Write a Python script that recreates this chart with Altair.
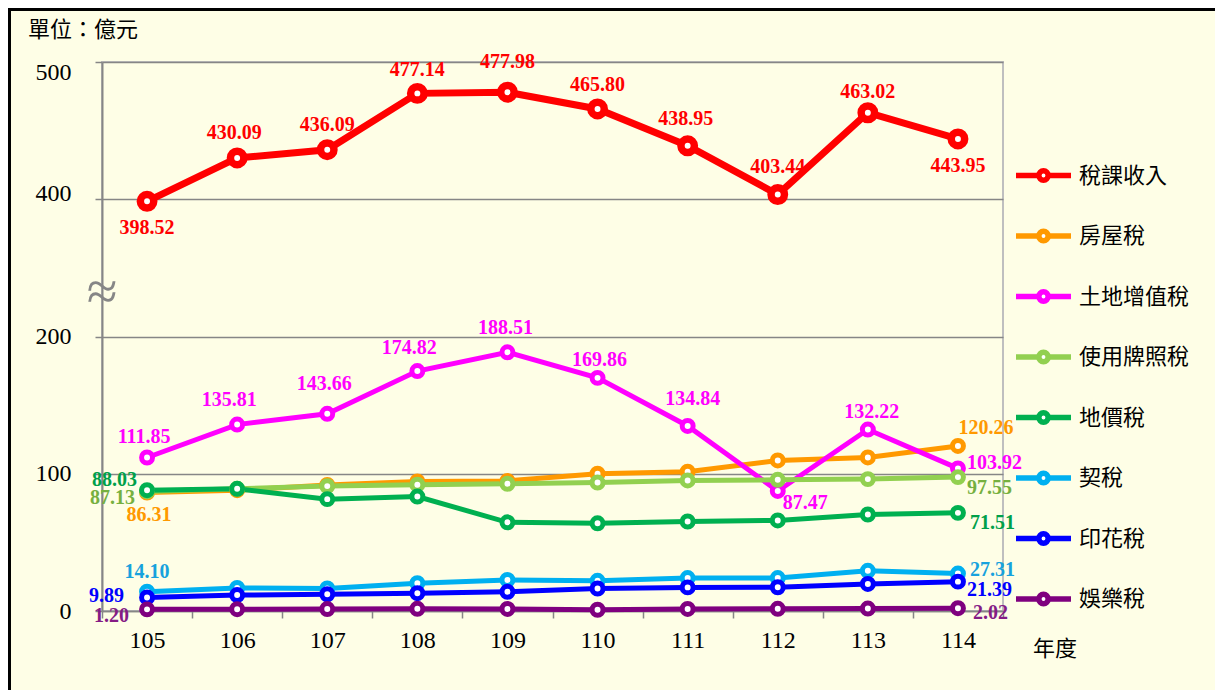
import altair as alt
import pandas as pd

# ---------------- data ----------------
years = ["105", "106", "107", "108", "109", "110", "111", "112", "113", "114"]
series_names = ["稅課收入", "房屋稅", "土地增值稅", "使用牌照稅", "地價稅", "契稅", "印花稅", "娛樂稅"]

tax_revenue = [398.52, 430.09, 436.09, 477.14, 477.98, 465.80, 438.95, 403.44, 463.02, 443.95]
house_tax = [86.31, 88.0, 91.8, 94.4, 94.8, 100.0, 101.5, 109.7, 111.9, 120.26]
land_increment_tax = [111.85, 135.81, 143.66, 174.82, 188.51, 169.86, 134.84, 87.47, 132.22, 103.92]
license_tax = [87.13, 89.0, 91.0, 92.0, 92.7, 93.6, 95.1, 95.6, 96.1, 97.55]
land_value_tax = [88.03, 89.0, 81.5, 83.4, 64.6, 63.9, 65.2, 66.0, 70.3, 71.51]
deed_tax = [14.10, 16.8, 16.4, 20.3, 22.6, 22.0, 24.0, 24.0, 29.3, 27.31]
stamp_tax = [9.89, 11.6, 12.2, 13.0, 14.0, 16.4, 17.2, 17.3, 19.7, 21.39]
amusement_tax = [1.20, 1.3, 1.4, 1.6, 1.5, 0.9, 1.5, 1.6, 1.8, 2.02]

unit_text = "單位：億元"
xaxis_text = "年度"
break_text = "≈"

# ---------------- styles ----------------
line_colors = ["#FF0000", "#FF9900", "#FF00FF", "#92D050", "#00B050", "#00B0F0", "#0000FF", "#7F007F"]
label_colors = ["#FF0000", "#FF9900", "#FF00FF", "#76B03F", "#00A04A", "#17A2DD", "#0000FF", "#851C85"]

values_by_series = dict(zip(series_names, [tax_revenue, house_tax, land_increment_tax, license_tax,
                                            land_value_tax, deed_tax, stamp_tax, amusement_tax]))

rows = []
for s in series_names:
    for yr, v in zip(years, values_by_series[s]):
        rows.append({"year": yr, "series": s, "value": v})
df = pd.DataFrame(rows)

# label placement: (dx, dy, align) in pixels
placement = {
    ("稅課收入", "105"): (0, 27, "center"), ("稅課收入", "106"): (-3, -25, "center"),
    ("稅課收入", "107"): (0, -25, "center"), ("稅課收入", "108"): (0, -23, "center"),
    ("稅課收入", "109"): (0, -30, "center"), ("稅課收入", "110"): (0, -24, "center"),
    ("稅課收入", "111"): (-2, -27, "center"), ("稅課收入", "112"): (0, -28, "center"),
    ("稅課收入", "113"): (0, -21, "center"), ("稅課收入", "114"): (0, 27, "center"),
    ("土地增值稅", "105"): (-3, -20, "center"), ("土地增值稅", "106"): (-8, -25, "center"),
    ("土地增值稅", "107"): (-3, -30, "center"), ("土地增值稅", "108"): (-8, -23, "center"),
    ("土地增值稅", "109"): (-2, -24, "center"), ("土地增值稅", "110"): (2, -18, "center"),
    ("土地增值稅", "111"): (5, -27, "center"), ("土地增值稅", "112"): (5, 12, "left"),
    ("土地增值稅", "113"): (4, -18, "center"), ("土地增值稅", "114"): (9, -5, "left"),
    ("房屋稅", "105"): (2, 22, "center"), ("房屋稅", "114"): (28, -18, "center"),
    ("使用牌照稅", "105"): (-12, 7, "right"), ("使用牌照稅", "114"): (9, 11, "left"),
    ("地價稅", "105"): (-10, -10, "right"), ("地價稅", "114"): (12, 10, "left"),
    ("契稅", "105"): (0, -20, "center"), ("契稅", "114"): (12, -4, "left"),
    ("印花稅", "105"): (-23, -1, "right"), ("印花稅", "114"): (9, 8, "left"),
    ("娛樂稅", "105"): (-18, 7, "right"), ("娛樂稅", "114"): (15, 5, "left"),
}
label_rows = []
for (s, yr), (dx, dy, al) in placement.items():
    label_rows.append({
        "year": yr, "series": s, "value": values_by_series[s][years.index(yr)],
        "dx": dx, "dy": dy, "align": al, "lc": label_colors[series_names.index(s)],
    })
labels_df = pd.DataFrame(label_rows)

# ---------------- chart ----------------
W, H = 901, 549
PAD = {"left": 94, "top": 54, "right": 212, "bottom": 87}
disp_expr = "datum.value >= 300 ? datum.value - 100 : datum.value"
SERIF = "Liberation Serif"
CJK = "Noto Sans CJK TC"
GRAY = "#868686"

x_enc = alt.X(
    "year:N", sort=years,
    scale=alt.Scale(paddingInner=0, paddingOuter=0),
    axis=alt.Axis(title=None, labelAngle=0, labelFont=SERIF, labelFontSize=24, labelColor="#000000",
                  labelPadding=10, domainColor=GRAY, domainWidth=1.5, tickColor=GRAY, tickWidth=1.5,
                  tickSize=7, tickBand="extent", grid=False),
)
y_enc = alt.Y(
    "disp:Q",
    scale=alt.Scale(domain=[0, 400], nice=False, zero=True),
    axis=alt.Axis(title=None, values=[0, 100, 200, 300, 400],
                  labelExpr="datum.value >= 300 ? '' + (datum.value + 100) : '' + datum.value",
                  labelFont=SERIF, labelFontSize=24, labelColor="#000000", labelPadding=24,
                  tickSize=7, tickColor=GRAY, tickWidth=1.5, domainColor=GRAY, domainWidth=2,
                  grid=True, gridColor=GRAY, gridWidth=1.5,
                  labelOffset={"condition": [{"test": "datum.value == 400", "value": 10},
                                             {"test": "datum.value == 300", "value": -6}],
                               "value": 0}),
)
color_scale = alt.Scale(domain=series_names, range=line_colors)

legend_path = ("M-1,0H-0.17M0.17,0H1M-0.17,0A0.17,0.17,0,1,1,0.17,0"
               "A0.17,0.17,0,1,1,-0.17,0Z")
legend = alt.Legend(title=None, orient="none", legendX=911, legendY=83,
                    direction="vertical", symbolType=legend_path, symbolSize=3025,
                    symbolStrokeWidth=5.5, symbolFillColor="white", symbolOpacity=1,
                    labelFont=CJK, labelFontSize=22, labelColor="#000000",
                    labelOffset=5, rowPadding=13.5, padding=0, labelLimit=300)

base = alt.Chart(df).transform_calculate(disp=disp_expr)
is_main = "datum.series == '稅課收入'"
not_main = "datum.series != '稅課收入'"

lines_main = base.transform_filter(is_main).mark_line(strokeWidth=7).encode(
    x=x_enc, y=y_enc,
    color=alt.Color("series:N", scale=color_scale, sort=series_names, legend=legend),
)
lines_other = base.transform_filter(not_main).mark_line(strokeWidth=5).encode(
    x=x_enc, y=y_enc,
    color=alt.Color("series:N", scale=color_scale, sort=series_names),
)
points_main = base.transform_filter(is_main).mark_point(
    shape="circle", filled=False, fill="white", opacity=1, fillOpacity=1, size=180, strokeWidth=7.5
).encode(x=x_enc, y=y_enc, color=alt.Color("series:N", scale=color_scale, sort=series_names))
points_other = base.transform_filter(not_main).mark_point(
    shape="circle", filled=False, fill="white", opacity=1, fillOpacity=1, size=120, strokeWidth=5
).encode(x=x_enc, y=y_enc, color=alt.Color("series:N", scale=color_scale, sort=series_names))

labels = alt.Chart(labels_df).transform_calculate(disp=disp_expr).mark_text(
    baseline="middle", font=SERIF, fontSize=20, fontWeight="bold",
    dx=alt.ExprRef(expr="datum.dx"), dy=alt.ExprRef(expr="datum.dy"),
    align=alt.ExprRef(expr="datum.align"),
).encode(
    x=x_enc, y=y_enc,
    text=alt.Text("value:Q", format=".2f"),
    fill=alt.Fill("lc:N", scale=None),
)

# outer frame (right and bottom edges fall outside the canvas, as in the reference)
border = alt.Chart(alt.Data(values=[{"k": 1}])).mark_rect(
    filled=False, stroke="black", strokeWidth=3
).encode(x=alt.value(-PAD["left"] + 1.5), x2=alt.value(W + PAD["right"] + 10),
         y=alt.value(-PAD["top"] + 1.5), y2=alt.value(H + PAD["bottom"] + 10))

unit_label = alt.Chart(alt.Data(values=[{"t": unit_text}])).mark_text(
    align="left", baseline="middle", font=CJK, fontSize=22, color="#000000"
).encode(x=alt.value(-74), y=alt.value(-32), text="t:N")

year_label = alt.Chart(alt.Data(values=[{"t": xaxis_text}])).mark_text(
    align="left", baseline="middle", font=CJK, fontSize=22, color="#000000"
).encode(x=alt.value(931), y=alt.value(587), text="t:N")

break_mark = alt.Chart(alt.Data(values=[{"t": break_text}])).mark_text(
    align="center", baseline="middle", font=SERIF, fontSize=56, color=GRAY
).encode(x=alt.value(0), y=alt.value(231), text="t:N")

chart = alt.layer(border, lines_main, lines_other, points_main, points_other, labels,
                  unit_label, year_label, break_mark).properties(
    width=W, height=H,
    padding=PAD,
    autosize=alt.AutoSizeParams(type="none"),
    background="#FEFEE6",
).configure_view(stroke="#BFBFBF", strokeWidth=2)

chart.save("out.html", embed_options={"renderer": "svg", "actions": False})
